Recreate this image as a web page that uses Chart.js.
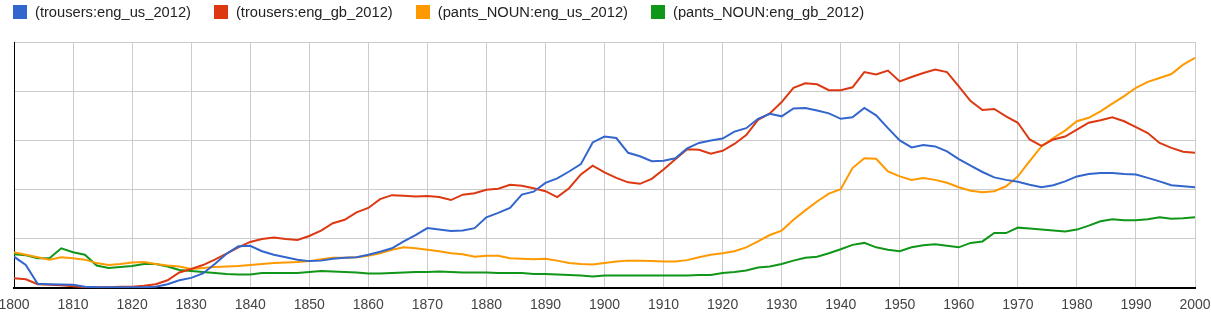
<!DOCTYPE html>
<html lang="en">
<head>
  <meta charset="UTF-8" />
  <title>trousers vs pants</title>
  <script src="https://cdn.jsdelivr.net/npm/chart.js"></script>
  <style>
    body {
      margin: 0;
      padding: 0;
      background: #fff;
      font-family: 'Liberation Sans', Arial, sans-serif;
    }
    #wrap {
      position: relative;
      width: 1211px;
      height: 322px;
    }
    /* legend row on top of the canvas */
    #legend {
      position: absolute;
      left: 13px;
      top: 4px;
      display: flex;
      font-size: 14.7px;
      color: #222;
      line-height: 16px;
    }
    .item {
      display: flex;
      align-items: center;
      margin-right: 23px;
    }
    .swatch {
      width: 14px;
      height: 14px;
      margin-right: 8px;
    }
  </style>
</head>
<body>

  <div id="wrap">
    <div id="legend"></div>
    <canvas id="ngram" width="1211" height="322"></canvas>
  </div>

  <script>
    const years = [
      1800,1802,1804,1806,1808,1810,1812,1814,1816,1818,
      1820,1822,1824,1826,1828,1830,1832,1834,1836,1838,
      1840,1842,1844,1846,1848,1850,1852,1854,1856,1858,
      1860,1862,1864,1866,1868,1870,1872,1874,1876,1878,
      1880,1882,1884,1886,1888,1890,1892,1894,1896,1898,
      1900,1902,1904,1906,1908,1910,1912,1914,1916,1918,
      1920,1922,1924,1926,1928,1930,1932,1934,1936,1938,
      1940,1942,1944,1946,1948,1950,1952,1954,1956,1958,
      1960,1962,1964,1966,1968,1970,1972,1974,1976,1978,
      1980,1982,1984,1986,1988,1990,1992,1994,1996,1998,
      2000
    ];

    // values are in the chart's own units (5 grid steps, top = 5)
    const trousersUS = [
      0.64,0.47,0.09,0.08,0.075,0.07,0.03,0.02,0.02,0.02,
      0.02,0.02,0.03,0.08,0.16,0.21,0.30,0.49,0.70,0.85,
      0.86,0.75,0.68,0.63,0.58,0.55,0.56,0.60,0.62,0.63,
      0.68,0.74,0.81,0.95,1.08,1.22,1.19,1.16,1.17,1.22,
      1.44,1.53,1.63,1.90,1.96,2.14,2.23,2.37,2.52,2.96,
      3.08,3.05,2.75,2.68,2.58,2.59,2.64,2.84,2.95,3.00,
      3.04,3.18,3.25,3.44,3.54,3.49,3.65,3.66,3.61,3.55,
      3.44,3.47,3.66,3.51,3.25,3.00,2.86,2.91,2.88,2.78,
      2.62,2.49,2.36,2.25,2.20,2.16,2.10,2.05,2.09,2.17,
      2.27,2.32,2.34,2.34,2.32,2.31,2.24,2.17,2.09,2.07,
      2.05
    ];
    const trousersGB = [
      0.20,0.18,0.08,0.07,0.06,0.04,0.02,0.02,0.02,0.03,
      0.03,0.05,0.08,0.16,0.32,0.39,0.47,0.58,0.70,0.83,
      0.94,1.00,1.03,1.00,0.98,1.06,1.17,1.32,1.39,1.54,
      1.63,1.81,1.89,1.88,1.86,1.87,1.85,1.79,1.90,1.93,
      2.00,2.02,2.10,2.08,2.03,1.97,1.85,2.03,2.31,2.49,
      2.35,2.24,2.15,2.12,2.22,2.41,2.62,2.82,2.81,2.73,
      2.79,2.93,3.11,3.42,3.55,3.78,4.07,4.16,4.14,4.02,
      4.02,4.08,4.39,4.34,4.42,4.20,4.29,4.37,4.44,4.39,
      4.10,3.80,3.62,3.64,3.49,3.36,3.02,2.89,3.02,3.08,
      3.22,3.36,3.41,3.47,3.39,3.27,3.15,2.95,2.85,2.77,
      2.75
    ];
    const pantsUS = [
      0.73,0.68,0.63,0.58,0.63,0.61,0.58,0.51,0.47,0.49,
      0.52,0.53,0.49,0.46,0.44,0.39,0.41,0.43,0.44,0.45,
      0.47,0.49,0.51,0.52,0.53,0.55,0.59,0.62,0.62,0.63,
      0.66,0.71,0.78,0.83,0.81,0.78,0.75,0.71,0.69,0.64,
      0.66,0.66,0.61,0.60,0.59,0.60,0.56,0.51,0.49,0.48,
      0.51,0.54,0.56,0.56,0.55,0.54,0.54,0.57,0.63,0.68,
      0.71,0.75,0.83,0.95,1.08,1.17,1.39,1.58,1.76,1.92,
      2.01,2.44,2.64,2.63,2.37,2.27,2.20,2.24,2.20,2.14,
      2.05,1.98,1.95,1.97,2.07,2.27,2.58,2.88,3.05,3.20,
      3.39,3.46,3.59,3.75,3.90,4.07,4.19,4.27,4.35,4.54,
      4.68
    ];
    const pantsGB = [
      0.69,0.67,0.61,0.61,0.81,0.73,0.68,0.46,0.41,0.43,
      0.45,0.49,0.49,0.44,0.37,0.35,0.33,0.31,0.29,0.28,
      0.28,0.31,0.31,0.31,0.31,0.33,0.35,0.34,0.33,0.32,
      0.30,0.30,0.31,0.32,0.33,0.33,0.34,0.33,0.32,0.32,
      0.32,0.31,0.31,0.31,0.29,0.29,0.28,0.27,0.26,0.24,
      0.26,0.26,0.26,0.26,0.26,0.26,0.26,0.26,0.27,0.27,
      0.31,0.33,0.36,0.42,0.44,0.49,0.56,0.62,0.64,0.71,
      0.79,0.88,0.92,0.83,0.78,0.75,0.83,0.87,0.89,0.86,
      0.83,0.92,0.95,1.12,1.12,1.23,1.21,1.19,1.17,1.15,
      1.19,1.27,1.36,1.40,1.38,1.38,1.40,1.44,1.41,1.42,
      1.44
    ];

    const seriesNames = [
      '(trousers:eng_us_2012)',
      '(trousers:eng_gb_2012)',
      '(pants_NOUN:eng_us_2012)',
      '(pants_NOUN:eng_gb_2012)'
    ];
    const seriesColors = ['#3366cc', '#dc3912', '#ff9900', '#109618'];
    const seriesValues = [trousersUS, trousersGB, pantsUS, pantsGB];

    // legend
    const legend = document.getElementById('legend');
    seriesNames.forEach((name, i) => {
      const item = document.createElement('div');
      item.className = 'item';
      item.innerHTML = '<span class="swatch" style="background:' + seriesColors[i] + '"></span><span>' + name + '</span>';
      legend.appendChild(item);
    });

    new Chart(document.getElementById('ngram'), {
      type: 'line',
      data: {
        datasets: seriesValues.map((vals, i) => ({
          label: seriesNames[i],
          data: years.map((y, j) => ({ x: y, y: vals[j] })),
          borderColor: seriesColors[i],
          borderWidth: 2,
          pointRadius: 0,
          tension: 0,
          fill: false
        }))
      },
      options: {
        responsive: false,
        animation: false,
        layout: { padding: { left: 14, right: 16, top: 42, bottom: 8 } },
        plugins: {
          legend: { display: false },
          tooltip: { enabled: false }
        },
        scales: {
          x: {
            type: 'linear',
            min: 1800,
            max: 2000,
            // let the end labels hang over the edges like the original
            afterFit: s => { s.paddingLeft = 0; s.paddingRight = 0; },
            ticks: {
              stepSize: 10,
              padding: 0,
              color: '#444',
              font: { family: "'Liberation Sans', Arial", size: 14 },
              maxRotation: 0,
              callback: v => String(v)
            },
            grid: { color: '#cccccc', tickColor: 'rgba(0,0,0,0)', tickLength: 9 },
            border: { color: '#000', width: 2 }
          },
          y: {
            min: 0,
            max: 5,
            ticks: { display: false, stepSize: 1 },
            grid: { color: '#cccccc', drawTicks: false },
            border: { color: '#000', width: 1 }
          }
        }
      }
    });
  </script>
</body>
</html>
